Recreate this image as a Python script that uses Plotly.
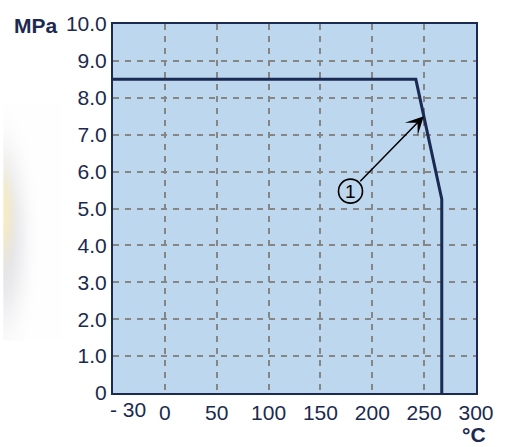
import base64
import struct
import zlib

import numpy as np
import plotly.graph_objects as go

# Pressure–temperature limit curve
temps_c = [-30, 242, 267, 267]
pressure_mpa = [8.5, 8.5, 5.25, 0.0]

x_tick_vals = [0, 50, 100, 150, 200, 250, 300]
x_tick_text = ["0", "50", "100", "150", "200", "250", "300"]
y_tick_vals = [0, 1, 2, 3, 4, 5, 6, 7, 8, 9, 10]
y_tick_text = ["0", "1.0", "2.0", "3.0", "4.0", "5.0", "6.0", "7.0", "8.0", "9.0", "10.0"]

# Callout "1": marker position and the point it points at
callout_label = "1"
callout_pos = (179.0, 5.47)
callout_target_temp = 249.7
callout_target_p = 7.5

NAVY = "#1b2a52"
TEXT = "#1b2a4e"
FONT = "Liberation Sans, Arial, sans-serif"


def to_axis(t):
    """Below 0 °C the axis is compressed: -30 °C sits one 50-unit step left of 0."""
    return t * 50.0 / 30.0 if t < 0 else t


x_plot = [to_axis(t) for t in temps_c]
x_left = to_axis(-30)


def soft_blob_png(w, h):
    """Blurred pale shape shown at the far left margin."""
    yy, xx = np.mgrid[0:h, 0:w].astype(float)
    img = np.ones((h, w, 3)) * 255.0
    # grey halo
    g = np.exp(-(((xx + 2) / 24.0) ** 2 + ((yy - 135) / 85.0) ** 2) ** 1.4)
    grey = np.array([218.0, 218.0, 224.0])
    img = img * (1 - 0.75 * g[..., None]) + grey * 0.75 * g[..., None]
    # yellow core
    c = np.exp(-(((xx + 3) / 12.0) ** 2 + ((yy - 112) / 44.0) ** 2) ** 1.4)
    yel = np.array([250.0, 238.0, 190.0])
    img = img * (1 - 0.85 * c[..., None]) + yel * 0.85 * c[..., None]
    arr = np.clip(img, 0, 255).astype(np.uint8)
    raw = b"".join(b"\x00" + arr[r].tobytes() for r in range(h))

    def chunk(tag, data):
        return (struct.pack(">I", len(data)) + tag + data
                + struct.pack(">I", zlib.crc32(tag + data) & 0xFFFFFFFF))

    png = b"\x89PNG\r\n\x1a\n"
    png += chunk(b"IHDR", struct.pack(">IIBBBBB", w, h, 8, 2, 0, 0, 0))
    png += chunk(b"IDAT", zlib.compress(raw, 9))
    png += chunk(b"IEND", b"")
    return "data:image/png;base64," + base64.b64encode(png).decode()


fig = go.Figure()
fig.add_trace(go.Scatter(
    x=x_plot, y=pressure_mpa, mode="lines",
    line=dict(color=NAVY, width=3), hoverinfo="skip", showlegend=False,
))

axis_common = dict(
    showline=True, linecolor=NAVY, linewidth=2, mirror=True,
    showgrid=True, gridcolor="#868686", gridwidth=1.5, griddash="6px,6px",
    zeroline=False, ticks="",
    tickfont=dict(family=FONT, size=21, color=TEXT),
)

fig.update_xaxes(range=[x_left, 300], tickmode="array",
                 tickvals=x_tick_vals, ticktext=x_tick_text,
                 ticklabelstandoff=0, **axis_common)
fig.update_yaxes(range=[0, 10], tickmode="array",
                 tickvals=y_tick_vals, ticktext=y_tick_text,
                 ticklabelstandoff=0, **axis_common)

# callout circle + number
fig.add_shape(type="circle", xref="x", yref="y",
              xsizemode="pixel", ysizemode="pixel",
              xanchor=callout_pos[0], yanchor=callout_pos[1],
              x0=-12, x1=12, y0=-12, y1=12,
              line=dict(color="black", width=1.6), fillcolor="rgba(0,0,0,0)")
fig.add_annotation(x=callout_pos[0], y=callout_pos[1], text=callout_label,
                   showarrow=False, font=dict(family=FONT, size=19, color="black"))
# arrow from circle edge to the curve
fig.add_annotation(x=callout_target_temp, y=callout_target_p,
                   ax=callout_pos[0] + 8.0, ay=callout_pos[1] + 0.23,
                   axref="x", ayref="y", text="", showarrow=True,
                   arrowhead=3, arrowsize=2.0, arrowwidth=1.5,
                   arrowcolor="black", standoff=0, startstandoff=0)

# axis titles and the compressed "-30" label
fig.add_annotation(xref="paper", yref="paper", x=-0.147, y=0.997,
                   xanchor="right", yanchor="middle", text="<b>MPa</b>",
                   showarrow=False, font=dict(family=FONT, size=21, color=TEXT))
fig.add_annotation(xref="paper", yref="paper", x=1.032, y=-0.1126,
                   xanchor="right", yanchor="middle", text="<b>°C</b>",
                   showarrow=False, font=dict(family=FONT, size=21, color=TEXT))
fig.add_annotation(xref="x", yref="paper", x=x_left, y=0, xshift=-5, yshift=-3,
                   xanchor="left", yanchor="top", text="- 30",
                   showarrow=False, font=dict(family=FONT, size=21, color=TEXT))

fig.add_layout_image(dict(
    source=soft_blob_png(60, 240), xref="paper", yref="paper",
    x=-113 / 374, y=(393 - 100) / 373, sizex=60 / 374, sizey=240 / 373,
    xanchor="left", yanchor="top", sizing="stretch", layer="below",
))

fig.update_layout(
    width=506, height=447,
    margin=dict(l=113, r=19, t=20, b=54),
    paper_bgcolor="white", plot_bgcolor="#bcd7ee",
    font=dict(family=FONT, color=TEXT),
)

fig.write_html("out.html")
